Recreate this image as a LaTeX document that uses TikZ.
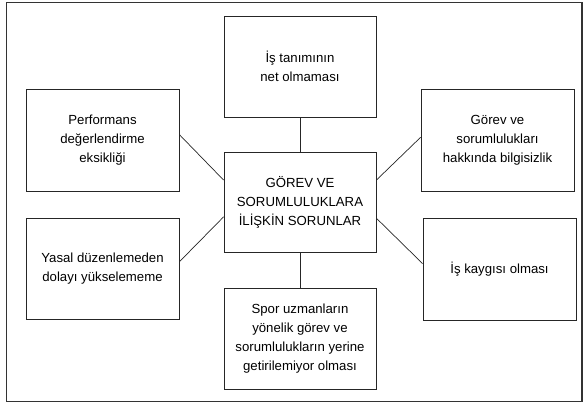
\documentclass[tikz,border=0pt]{standalone}
\usepackage{fontspec}
\setmainfont{Liberation Sans}
\usetikzlibrary{positioning}

\begin{document}
\begin{tikzpicture}[x=1pt, y=1pt, font=\fontsize{13.2}{19}\selectfont,
    kutu/.style={draw=black!85, line width=0.8pt, minimum width=152pt, minimum height=101pt, align=center, inner sep=0pt},
    bag/.style={draw=black!85, line width=0.7pt}]

\useasboundingbox (0, 0) rectangle (584, 404);

%\draw[step=10, color=gray!20] (0, 0) grid (584, 404);

\draw[black!80, line width=1.3pt] (6.7, 2.5) rectangle (582, 401.3);

\node[kutu, minimum height=100pt] (merkez) at (300, 202) {G\"OREV VE\\SORUMLULUKLARA\\\.{I}L\.{I}\c{S}K\.{I}N SORUNLAR};

\node[kutu] (ust) at (300, 337.5) {\.{I}\c{s} tan\i m\i n\i n\\net olmamas\i};
\node[kutu] (alt) at (300, 65.5) {Spor uzmanlar\i n\\y\"onelik g\"orev ve\\sorumluluklar\i n yerine\\getirilemiyor olmas\i};

\node[kutu, minimum width=153pt, minimum height=102pt] (solust) at (102.5, 264) {Performans\\de\u{g}erlendirme\\eksikli\u{g}i};
\node[kutu, minimum width=153pt] (solalt) at (102.5, 135.5) {Yasal d\"uzenlemeden\\dolay\i\ y\"ukselememe};

\node[kutu, minimum width=153pt, minimum height=102pt] (sagust) at (497.5, 264) {G\"orev ve\\sorumluluklar\i\\hakk\i nda bilgisizlik};
\node[kutu, minimum width=153pt, minimum height=102pt] (sagalt) at (499.5, 135) {\.{I}\c{s} kayg\i s\i\ olmas\i};

\draw[bag] (ust) -- (merkez);
\draw[bag] (merkez) -- (alt);
\draw[bag] (solust.4) -- (merkez.164);
\draw[bag] (solalt.5) -- (merkez.191);
\draw[bag] (merkez.16) -- (sagust.178);
\draw[bag] (merkez.348) -- (sagalt.176);

\end{tikzpicture}
\end{document}
